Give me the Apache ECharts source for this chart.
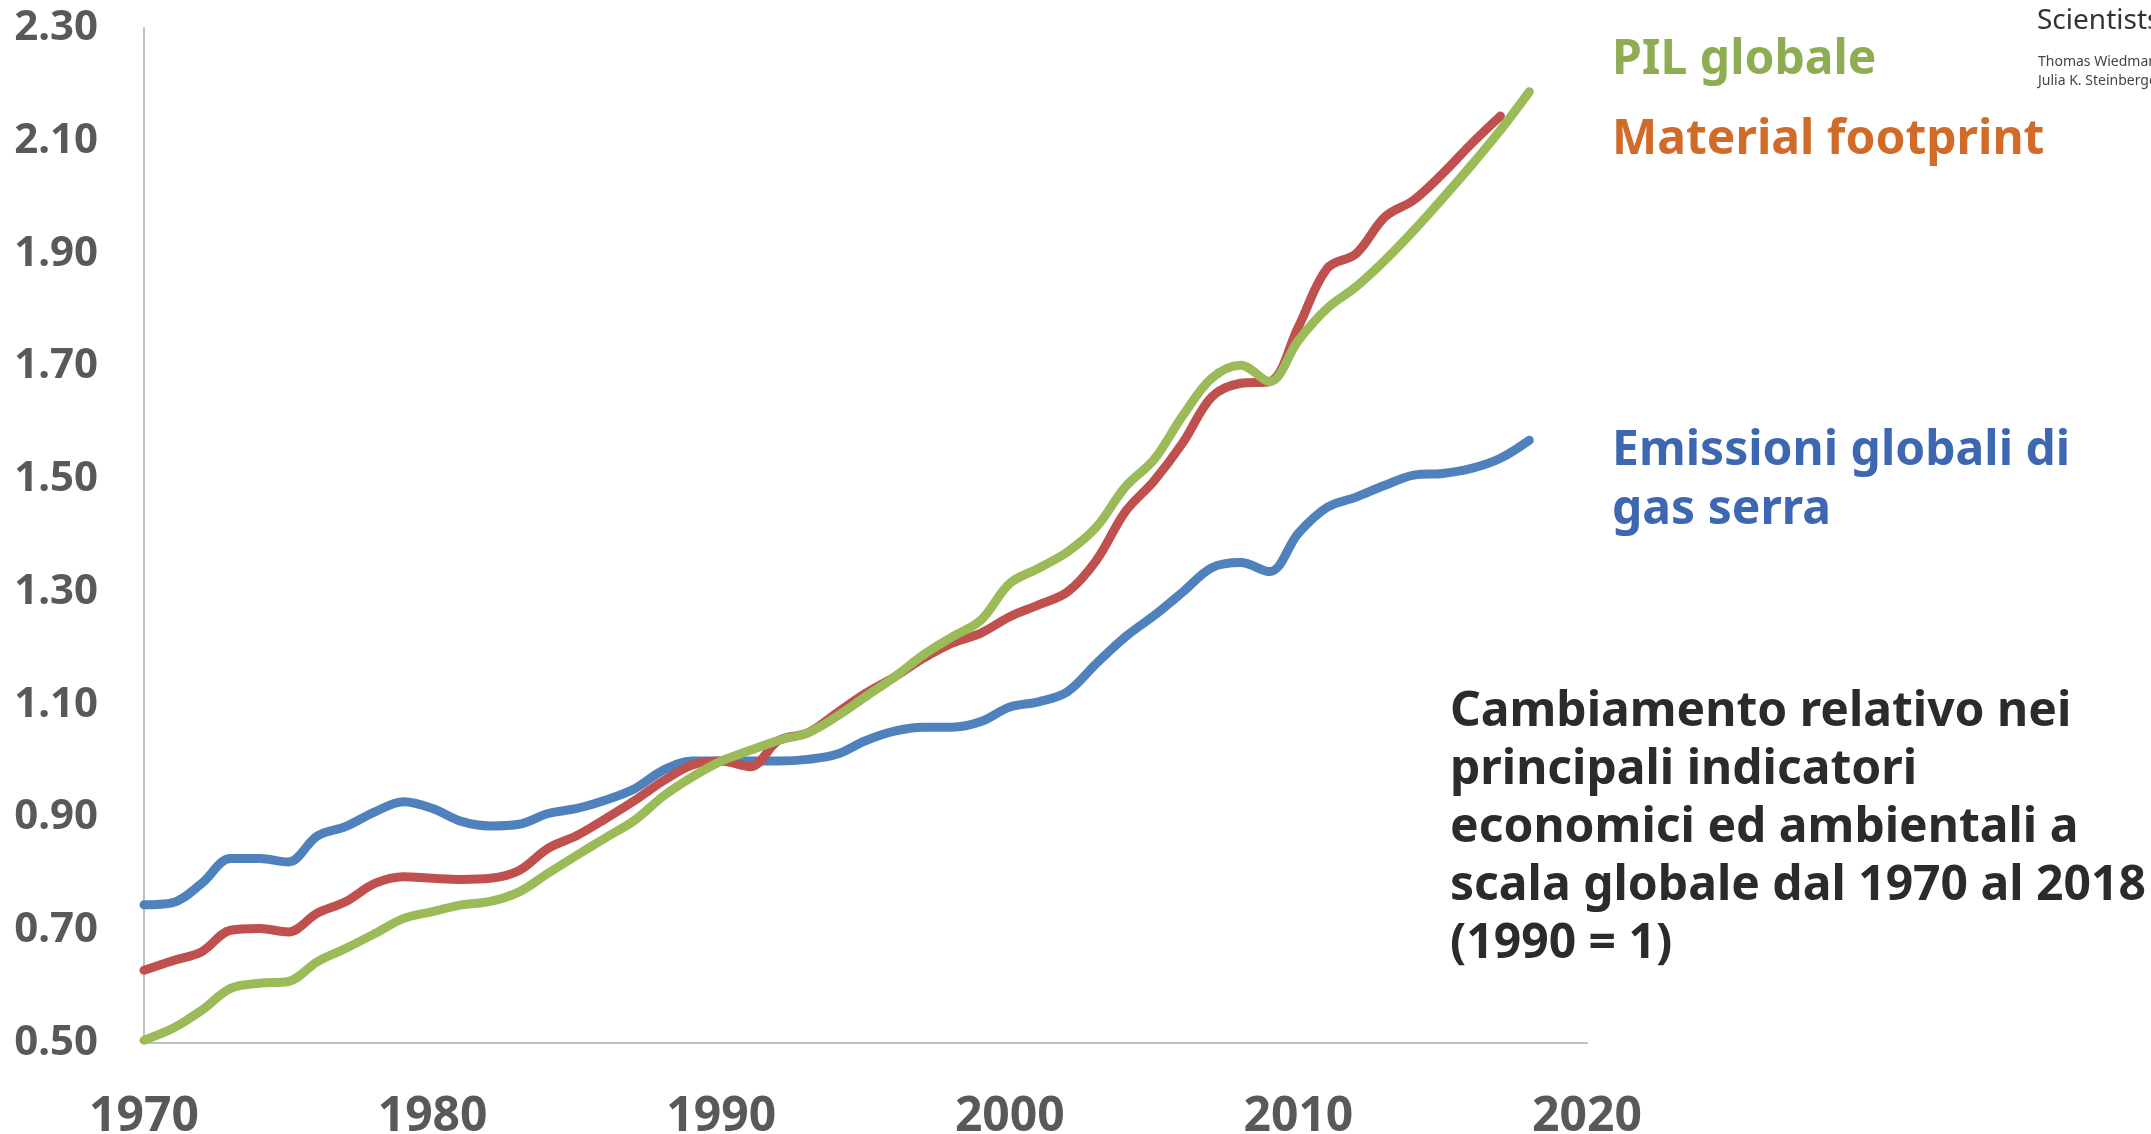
<!DOCTYPE html>
<html>
<head>
<meta charset="utf-8">
<title>Cambiamento relativo</title>
<script src="https://cdn.jsdelivr.net/npm/echarts@6/dist/echarts.min.js"></script>
<style>
  body { margin: 0; background: #fff; }
  #chart { width: 2151px; height: 1134px; }
</style>
</head>
<body>
<div id="chart"></div>
<script>
// anni 1970-2018, indice 1990 = 1
var years = [];
for (var y = 1970; y <= 2018; y++) years.push(y);

var yTicks = [0.5, 0.7, 0.9, 1.1, 1.3, 1.5, 1.7, 1.9, 2.1, 2.3];
var xTicks = [1970, 1980, 1990, 2000, 2010, 2020];

// Emissioni globali di gas serra (1970-2018)
var emissioni = [
  0.745, 0.749, 0.783, 0.827, 0.827, 0.821, 0.867, 0.884, 0.910, 0.928,
  0.916, 0.893, 0.885, 0.888, 0.907, 0.916, 0.931, 0.951, 0.984, 1.000,
  1.000, 1.000, 1.000, 1.003, 1.012, 1.036, 1.053, 1.060, 1.060, 1.070,
  1.096, 1.105, 1.123, 1.173, 1.220, 1.258, 1.300, 1.343, 1.352, 1.336,
  1.404, 1.450, 1.468, 1.489, 1.507, 1.510, 1.519, 1.537, 1.569
];

// Material footprint (1970-2017)
var material = [
  0.629, 0.646, 0.662, 0.700, 0.703, 0.697, 0.730, 0.751, 0.783, 0.795,
  0.792, 0.790, 0.792, 0.806, 0.845, 0.868, 0.898, 0.930, 0.965, 0.993,
  1.000, 0.990, 1.037, 1.050, 1.085, 1.120, 1.149, 1.182, 1.209, 1.227,
  1.256, 1.277, 1.300, 1.356, 1.442, 1.497, 1.565, 1.646, 1.670, 1.673,
  1.770, 1.874, 1.900, 1.965, 1.995, 2.042, 2.095, 2.144
];

// PIL globale (1970-2018)
var pil = [
  0.505, 0.526, 0.558, 0.597, 0.606, 0.609, 0.644, 0.668, 0.694, 0.721,
  0.733, 0.745, 0.751, 0.768, 0.801, 0.833, 0.864, 0.895, 0.938, 0.972,
  1.000, 1.019, 1.037, 1.050, 1.079, 1.114, 1.149, 1.188, 1.220, 1.250,
  1.315, 1.342, 1.371, 1.415, 1.486, 1.535, 1.613, 1.679, 1.702, 1.673,
  1.746, 1.803, 1.841, 1.888, 1.941, 1.998, 2.057, 2.119, 2.187
];

function pairs(vals) {
  return vals.map(function (v, i) { return [years[i], v]; });
}

var FONT = "'Noto Sans', 'Open Sans', sans-serif";

(function () {
  var option = {
    backgroundColor: '#ffffff',
    animation: false,
    grid: { left: 144, right: 564, top: 28, bottom: 91, containLabel: false, outerBoundsMode: 'none' },
    xAxis: {
      type: 'value',
      min: xTicks[0],
      max: xTicks[xTicks.length - 1],
      interval: 10,
      axisLine: { show: true, lineStyle: { color: '#bfbfbf', width: 2 } },
      axisTick: { show: false },
      splitLine: { show: false },
      axisLabel: {
        margin: 50,
        color: '#595959',
        fontFamily: FONT,
        fontWeight: 'bold',
        fontSize: 48,
        formatter: function (v) { return String(v); }
      }
    },
    yAxis: {
      type: 'value',
      min: yTicks[0],
      max: yTicks[yTicks.length - 1],
      interval: 0.2,
      axisLine: { show: true, lineStyle: { color: '#bfbfbf', width: 2 } },
      axisTick: { show: false },
      splitLine: { show: false },
      axisLabel: {
        margin: 46,
        color: '#595959',
        fontFamily: FONT,
        fontWeight: 'bold',
        fontSize: 42,
        formatter: function (v) { return v.toFixed(2); }
      }
    },
    series: [
      {
        name: 'Emissioni globali di gas serra',
        type: 'line',
        data: pairs(emissioni),
        smooth: 0.35,
        showSymbol: false,
        lineStyle: { color: '#4f81bd', width: 9, cap: 'round' }
      },
      {
        name: 'Material footprint',
        type: 'line',
        data: pairs(material),
        smooth: 0.35,
        showSymbol: false,
        lineStyle: { color: '#c0504d', width: 9, cap: 'round' }
      },
      {
        name: 'PIL globale',
        type: 'line',
        data: pairs(pil),
        smooth: 0.35,
        showSymbol: false,
        lineStyle: { color: '#9bbb59', width: 9, cap: 'round' }
      }
    ],
    graphic: [
      { type: 'text', left: 1612, top: 36, style: { text: 'PIL globale', fill: '#8eac51', font: 'bold 48px ' + FONT } },
      { type: 'text', left: 1612, top: 116, style: { text: 'Material footprint', fill: '#d16b2a', font: 'bold 48px ' + FONT } },
      { type: 'text', left: 1612, top: 422, style: { text: 'Emissioni globali di\ngas serra', fill: '#3e67b1', font: 'bold 48px ' + FONT, lineHeight: 59 } },
      { type: 'text', left: 1450, top: 683, style: {
          text: 'Cambiamento relativo nei\nprincipali indicatori\neconomici ed ambientali a\nscala globale dal 1970 al 2018\n(1990 = 1)',
          fill: '#2b2b2b', font: 'bold 48px ' + FONT, lineHeight: 58 } },
      { type: 'text', left: 2037, top: 7, style: { text: 'Scientists', fill: '#333333', font: '28px ' + FONT } },
      { type: 'text', left: 2038, top: 55, style: { text: 'Thomas Wiedmann', fill: '#444444', font: '14px ' + FONT } },
      { type: 'text', left: 2038, top: 74, style: { text: 'Julia K. Steinberger', fill: '#444444', font: '14px ' + FONT } }
    ]
  };

  var myChart = echarts.init(document.getElementById('chart'));
  myChart.setOption(option);
})();
</script>
</body>
</html>
